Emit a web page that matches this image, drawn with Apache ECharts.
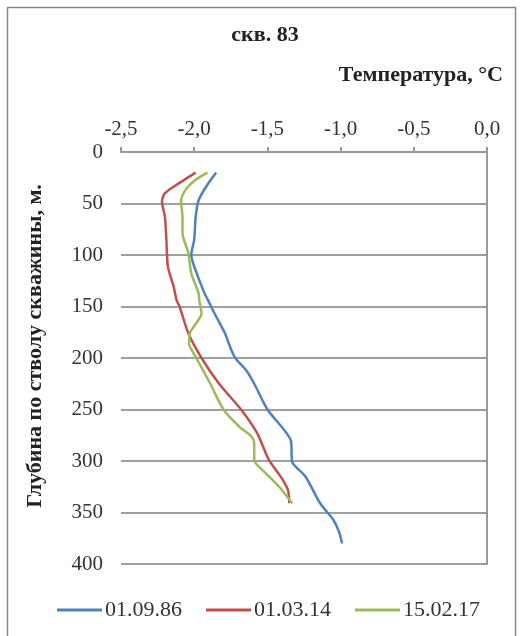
<!DOCTYPE html>
<html>
<head>
<meta charset="utf-8">
<script src="https://cdn.jsdelivr.net/npm/echarts@6/dist/echarts.min.js"></script>
<style>
html,body{margin:0;padding:0;background:#fff;}
#chart{width:521px;height:636px;}
</style>
</head>
<body>
<div id="chart"></div>
<script>
// Data
const seriesNames = ['01.09.86', '01.03.14', '15.02.17'];
const xTicks = [-2.5, -2.0, -1.5, -1.0, -0.5, 0.0];
const yTicks = [0, 50, 100, 150, 200, 250, 300, 350, 400];

const depth1 = [20, 34, 47, 63, 85, 100, 115, 137, 144, 157, 176, 191, 200, 212, 225, 250, 280, 301, 315, 341, 357, 369, 380];
const temp1  = [-1.85, -1.92, -1.97, -1.99, -2.00, -2.02, -1.99, -1.93, -1.905, -1.86, -1.79, -1.75, -1.72, -1.645, -1.59, -1.50, -1.34, -1.33, -1.24, -1.14, -1.05, -1.01, -0.99];

const depth2 = [20, 30, 40, 48, 63, 85, 111, 131, 144, 150, 176, 200, 225, 250, 273, 299, 315, 328, 341];
const temp2  = [-1.99, -2.10, -2.20, -2.22, -2.20, -2.19, -2.18, -2.14, -2.12, -2.10, -2.04, -1.95, -1.83, -1.68, -1.57, -1.49, -1.41, -1.36, -1.35];

const depth3 = [20, 27, 37, 48, 63, 79, 98, 118, 137, 144, 157, 166, 176, 186, 200, 225, 250, 267, 276, 283, 299, 312, 325, 341];
const temp3  = [-1.91, -1.99, -2.06, -2.09, -2.08, -2.08, -2.04, -2.02, -1.97, -1.965, -1.95, -1.985, -2.03, -2.035, -1.985, -1.89, -1.80, -1.69, -1.61, -1.59, -1.59, -1.51, -1.42, -1.33];

const colors = ['#4F81BD', '#C0504D', '#9BBB59'];

function pairs(t, d) { return t.map((v, i) => [v, d[i]]); }
const seriesData = [pairs(temp1, depth1), pairs(temp2, depth2), pairs(temp3, depth3)];

const FONT = '"Liberation Serif", "Times New Roman", serif';
const chart = echarts.init(document.getElementById('chart'), null, {renderer: 'canvas'});

chart.setOption({
  animation: false,
  backgroundColor: '#fff',
  color: colors,
  grid: {left: 121, right: 34, top: 152, bottom: 72, containLabel: false},
  xAxis: {
    type: 'value', position: 'top',
    min: xTicks[0], max: xTicks[xTicks.length - 1], interval: 0.5,
    axisLine: {show: true, lineStyle: {color: '#999', width: 2}},
    axisTick: {show: true, inside: false, length: 5, lineStyle: {color: '#999', width: 2}},
    splitLine: {show: false},
    axisLabel: {
      margin: 12, color: '#333', fontFamily: FONT, fontSize: 21,
      formatter: v => v.toFixed(1).replace('.', ',')
    }
  },
  yAxis: {
    type: 'value', inverse: true,
    min: yTicks[0], max: yTicks[yTicks.length - 1], interval: 50,
    axisLine: {show: true, lineStyle: {color: '#999', width: 2}},
    axisTick: {show: true, inside: false, length: 5, lineStyle: {color: '#999', width: 2}},
    splitLine: {show: true, lineStyle: {color: '#a0a0a0', width: 2}},
    axisLabel: {margin: 18, color: '#333', fontFamily: FONT, fontSize: 21}
  },
  legend: {
    bottom: 10, left: 52,
    icon: 'rect',
    itemWidth: 45, itemHeight: 3, itemGap: 24,
    textStyle: {fontFamily: FONT, fontSize: 22, color: '#333', padding: [0, 0, 0, -2]},
    data: seriesNames
  },
  series: seriesNames.map((n, i) => ({
    name: n, type: 'line', data: seriesData[i],
    symbol: 'none', smooth: 0.25,
    lineStyle: {width: 2.5, color: colors[i]},
    itemStyle: {color: colors[i]}
  })),
  graphic: [
    {type: 'rect', shape: {x: 7.5, y: 7.5, width: 508, height: 640}, style: {fill: 'none', stroke: '#888', lineWidth: 1.5}, silent: true},
    {type: 'text', x: 265, y: 35, style: {text: 'скв. 83', font: 'bold 22px ' + FONT, fill: '#222', textAlign: 'center', textVerticalAlign: 'middle'}},
    {type: 'text', x: 503, y: 75, style: {text: 'Температура, °С', font: 'bold 22px ' + FONT, fill: '#222', textAlign: 'right', textVerticalAlign: 'middle'}},
    {type: 'text', x: 35, y: 346, rotation: Math.PI / 2, style: {text: 'Глубина по стволу скважины, м.', font: 'bold 22px ' + FONT, fill: '#222', textAlign: 'center', textVerticalAlign: 'middle'}}
  ]
});
</script>
</body>
</html>
